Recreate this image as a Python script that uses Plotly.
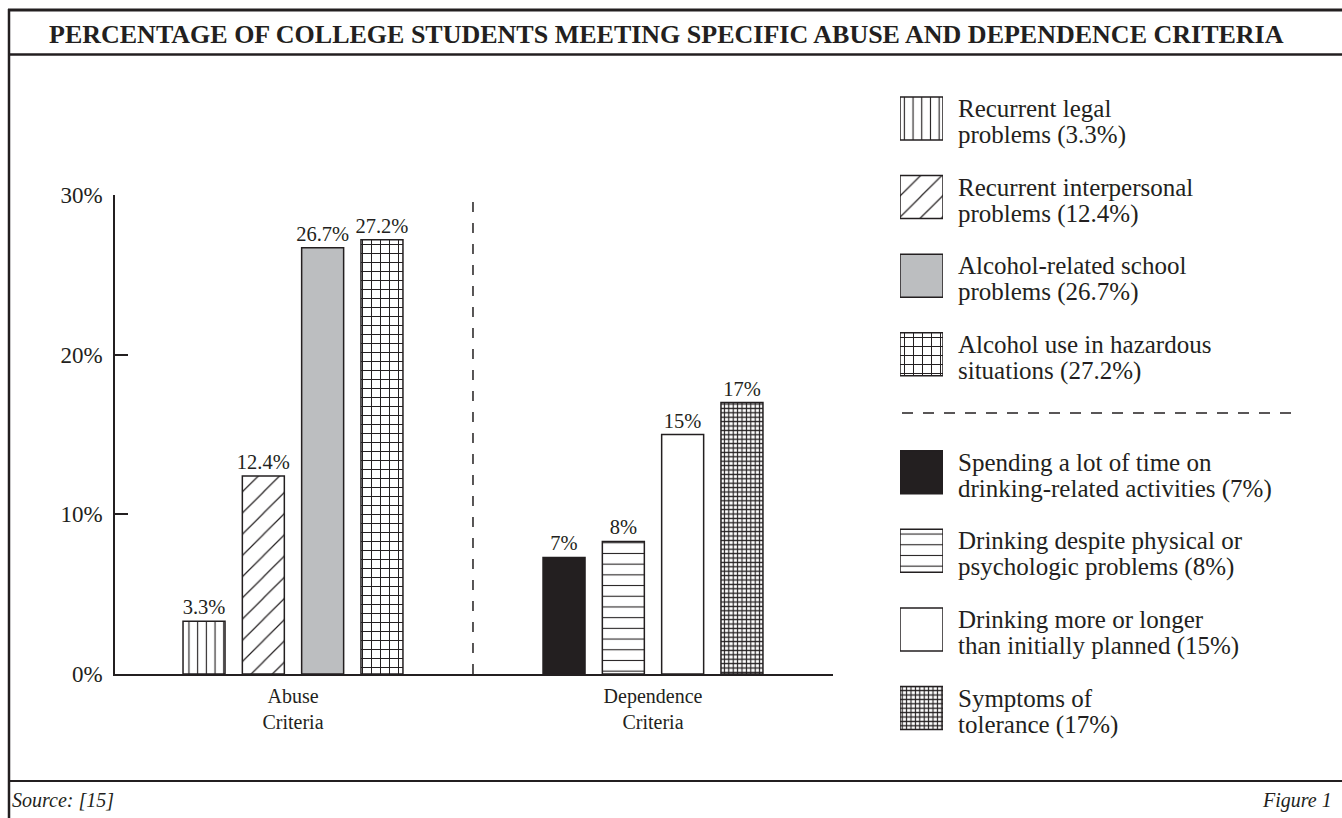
import plotly.graph_objects as go

# ---------------- data ----------------
groups = ["Abuse<br>Criteria", "Dependence<br>Criteria"]

abuse_values = [3.3, 12.4, 26.7, 27.2]
abuse_labels = ["3.3%", "12.4%", "26.7%", "27.2%"]

dependence_values = [7.3, 8.3, 15.0, 17.0]
dependence_labels = ["7%", "8%", "15%", "17%"]

legend_line1 = [
    "Recurrent legal",
    "Recurrent interpersonal",
    "Alcohol-related school",
    "Alcohol use in hazardous",
    "Spending a lot of time on",
    "Drinking despite physical or",
    "Drinking more or longer",
    "Symptoms of",
]
legend_line2 = [
    "problems (3.3%)",
    "problems (12.4%)",
    "problems (26.7%)",
    "situations (27.2%)",
    "drinking-related activities (7%)",
    "psychologic problems (8%)",
    "than initially planned (15%)",
    "tolerance (17%)",
]

y_tick_values = [0, 10, 20, 30]
y_tick_text = ["0%", "10%", "20%", "30%"]

title_text = "PERCENTAGE OF COLLEGE STUDENTS MEETING SPECIFIC ABUSE AND DEPENDENCE CRITERIA"
source_text = "Source: [15]"
figure_text = "Figure 1"

# ---------------- styling ----------------
W, H = 1342, 818
INK = "#231f20"
GRAY = "#bcbec0"
FONT = "Liberation Serif"


def fx(px):
    return px / W


def fy(py):
    return 1 - py / H


def pat(shape, size, solidity):
    return dict(shape=shape, size=size, solidity=solidity, fgcolor=INK,
                bgcolor="white", fillmode="replace")


styles = [
    dict(color="white", pattern=pat("|", 8.7, 0.13)),
    dict(color="white", pattern=pat("/", 15, 0.08)),
    dict(color=GRAY, pattern=dict(shape="")),
    dict(color="white", pattern=pat("+", 9, 0.21)),
    dict(color=INK, pattern=dict(shape="")),
    dict(color="white", pattern=pat("-", 10.7, 0.1)),
    dict(color="white", pattern=dict(shape="")),
    dict(color="white", pattern=pat("+", 4.4, 0.45)),
]
for s in styles:
    s["line"] = dict(color=INK, width=1.5)

fig = go.Figure()

# main bars
series = [(groups[0], v, l) for v, l in zip(abuse_values, abuse_labels)] + \
         [(groups[1], v, l) for v, l in zip(dependence_values, dependence_labels)]
for i, (g, v, l) in enumerate(series):
    fig.add_trace(go.Bar(
        x=[g], y=[v], text=[l], textposition="outside",
        textfont=dict(family=FONT, size=20.5, color=INK),
        constraintext="none", cliponaxis=False,
        offsetgroup=str(i % 4), marker=styles[i],
        name=legend_line1[i] + " " + legend_line2[i],
        hoverinfo="skip", showlegend=False,
    ))

# legend swatches (second, hidden axes)
STEP = 78.6
Y0 = 118.5
legend_pos = [i + (0.5 if i >= 4 else 0) for i in range(len(styles))]
for i, p in enumerate(legend_pos):
    fig.add_trace(go.Bar(
        x=[1], y=[p], orientation="h", width=[43 / STEP], offset=[-43 / STEP / 2],
        offsetgroup="legend", xaxis="x2", yaxis="y2",
        marker=styles[i], cliponaxis=False, hoverinfo="skip", showlegend=False,
    ))

annotations = []
for i, p in enumerate(legend_pos):
    cy = Y0 + p * STEP
    annotations.append(dict(x=fx(956), y=fy(cy - 10), xref="paper", yref="paper",
                            xanchor="left", yanchor="middle", showarrow=False,
                            text=legend_line1[i],
                            font=dict(family=FONT, size=25, color=INK)))
    annotations.append(dict(x=fx(956), y=fy(cy + 16.5), xref="paper", yref="paper",
                            xanchor="left", yanchor="middle", showarrow=False,
                            text=legend_line2[i],
                            font=dict(family=FONT, size=25, color=INK)))

annotations.append(dict(x=fx(666), y=fy(34), xref="paper", yref="paper",
                        xanchor="center", yanchor="middle", showarrow=False,
                        text=title_text,
                        font=dict(family=FONT, size=26, color=INK, weight="bold")))
annotations.append(dict(x=fx(10), y=fy(800), xref="paper", yref="paper",
                        xanchor="left", yanchor="middle", showarrow=False,
                        text=source_text,
                        font=dict(family=FONT, size=20, color=INK, style="italic")))
annotations.append(dict(x=fx(1334), y=fy(800), xref="paper", yref="paper",
                        xanchor="right", yanchor="middle", showarrow=False,
                        text=figure_text,
                        font=dict(family=FONT, size=20, color=INK, style="italic")))

shapes = [
    # frame
    dict(type="line", xref="paper", yref="paper", x0=fx(8), x1=1, y0=fy(10), y1=fy(10),
         line=dict(color=INK, width=3)),
    dict(type="line", xref="paper", yref="paper", x0=fx(8), x1=1, y0=fy(54.5), y1=fy(54.5),
         line=dict(color=INK, width=2.5)),
    dict(type="line", xref="paper", yref="paper", x0=fx(8), x1=1, y0=fy(781), y1=fy(781),
         line=dict(color=INK, width=2)),
    dict(type="line", xref="paper", yref="paper", x0=fx(9), x1=fx(9), y0=fy(9), y1=0,
         line=dict(color=INK, width=2.5)),
    # group divider
    dict(type="line", xref="x", yref="y", x0=0.5, x1=0.5, y0=0, y1=30.3,
         line=dict(color=INK, width=1.5, dash="10px,11px")),
    # legend divider
    dict(type="line", xref="paper", yref="paper", x0=fx(902), x1=fx(1298),
         y0=fy(413), y1=fy(413), line=dict(color=INK, width=1.5, dash="11px,10px")),
]

fig.update_layout(
    width=W, height=H, margin=dict(l=0, r=0, t=0, b=0, autoexpand=False),
    paper_bgcolor="white", plot_bgcolor="rgba(0,0,0,0)",
    barmode="group", bargap=0.341, bargroupgap=0.292,
    showlegend=False,
    font=dict(family=FONT, color=INK),
    xaxis=dict(type="category", domain=[fx(115), fx(833)], range=[-0.4944, 1.5],
               showline=True, linecolor=INK, linewidth=1.5, ticks="",
               showgrid=False, zeroline=False, fixedrange=True, automargin=False,
               tickfont=dict(family=FONT, size=20, color=INK), ticklabelstandoff=3),
    yaxis=dict(domain=[fy(674), fy(195)], range=[0, 30],
               showline=True, linecolor=INK, linewidth=1.5,
               ticks="inside", ticklen=13, tickwidth=1.5, tickcolor=INK,
               tickvals=y_tick_values, ticktext=y_tick_text,
               showgrid=False, zeroline=False, fixedrange=True, automargin=False,
               tickfont=dict(family=FONT, size=23, color=INK), ticklabelstandoff=6),
    xaxis2=dict(domain=[fx(900), fx(943)], range=[0, 1], visible=False, fixedrange=True,
                automargin=False),
    yaxis2=dict(domain=[fy(740), fy(90)],
                range=[(740 - Y0) / STEP, (90 - Y0) / STEP],
                visible=False, fixedrange=True, anchor="x2", automargin=False),
    annotations=annotations,
    shapes=shapes,
)

fig.write_html("out.html", config={"displayModeBar": False},
               post_script="document.body.style.margin='0';document.body.style.overflow='hidden';")
